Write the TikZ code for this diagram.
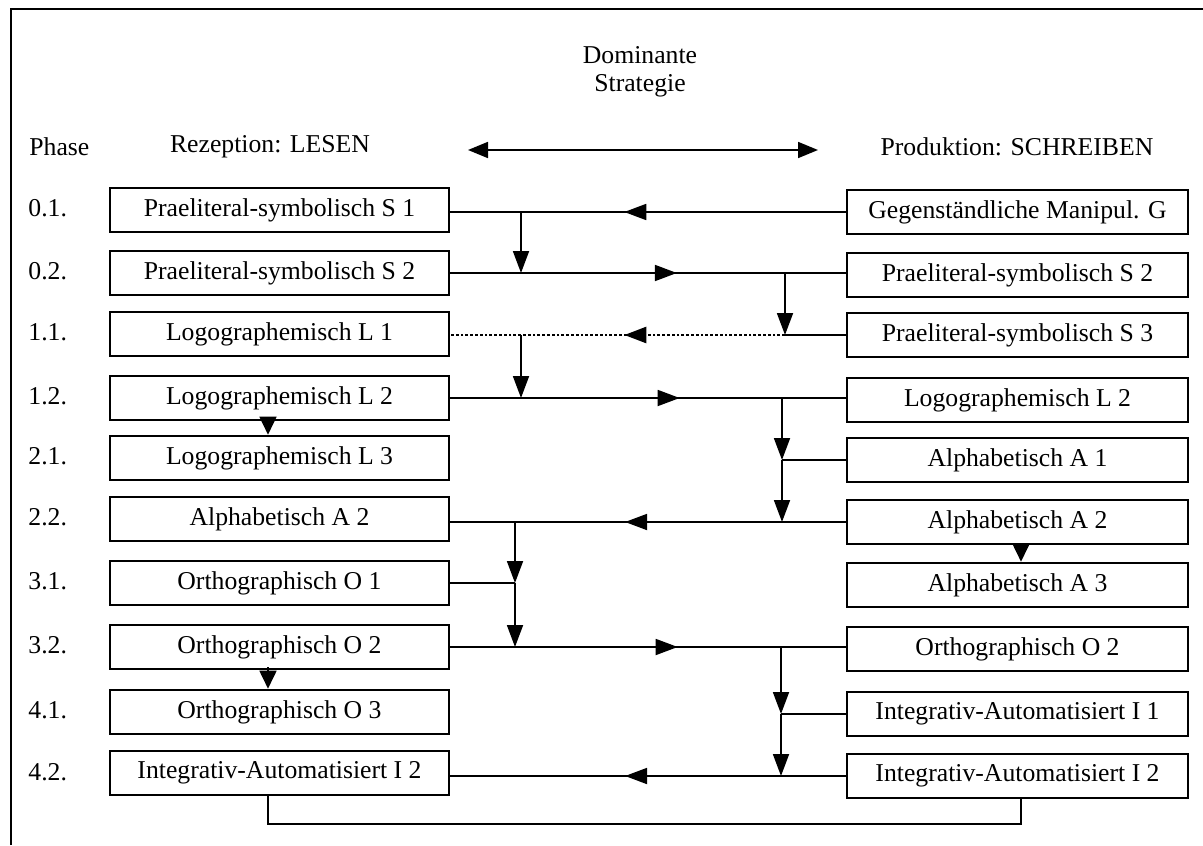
\documentclass[tikz,border=0pt]{standalone}
\usepackage{fontspec}
\setmainfont{Liberation Serif}
\usetikzlibrary{arrows.meta,decorations.markings}
\begin{document}
\begin{tikzpicture}[x=0.5pt,y=-0.5pt,
  every node/.style={font=\fontsize{12.85}{13.5}\selectfont, inner sep=0pt},
  lbox/.style={draw, line width=1.3pt, minimum width=169.5pt, minimum height=22pt},
  rbox/.style={draw, line width=1.3pt, minimum width=170.5pt, minimum height=22pt},
  conn/.style={line width=0.9pt},
  tip/.style={-{Triangle[length=11pt,width=8pt]}},
  smalltip/.style={-{Triangle[length=9pt,width=8.5pt]}, shorten <=-1.5pt},
  midarrow/.style={postaction={decorate}, decoration={markings,
     mark=at position #1 with {\arrow{Triangle[length=11pt,width=8pt]}}}},
  phase/.style={anchor=west}
]
\useasboundingbox (0,0) rectangle (1203,845);
% frame (top and left edges)
\draw[line width=0.8pt] (11,845) -- (11,9) -- (1203,9);

% headers
\node (dom) [align=center] at (640,72) {Dominante\\[0.25pt]Strategie};
\node (ph) [phase] at (29,147) {Phase};
\node (rez) at (270,147) {Rezeption: LESEN};
\node (prod) at (1017,147) {Produktion: SCHREIBEN};
\coordinate (da1) at (468,150);
\coordinate (da2) at (818,150);
\draw[conn, {Triangle[length=10pt,width=8pt]}-{Triangle[length=10pt,width=8pt]}] (da1) -- (da2);

% phase numbers
\node (p1) [phase] at (28,208) {0.1.};
\node (p2) [phase] at (28,271) {0.2.};
\node (p3) [phase] at (28,332) {1.1.};
\node (p4) [phase] at (28,396) {1.2.};
\node (p5) [phase] at (28,456) {2.1.};
\node (p6) [phase] at (28,517) {2.2.};
\node (p7) [phase] at (28,581) {3.1.};
\node (p8) [phase] at (28,645) {3.2.};
\node (p9) [phase] at (28,710) {4.1.};
\node (p10) [phase] at (28,772) {4.2.};

% left boxes
\node (lS1) [lbox] at (279.5,210) {Praeliteral-symbolisch S 1};
\node (lS2) [lbox] at (279.5,273) {Praeliteral-symbolisch S 2};
\node (lL1) [lbox] at (279.5,334) {Logographemisch L 1};
\node (lL2) [lbox] at (279.5,398) {Logographemisch L 2};
\node (lL3) [lbox] at (279.5,458) {Logographemisch L 3};
\node (lA2) [lbox] at (279.5,519) {Alphabetisch A 2};
\node (lO1) [lbox] at (279.5,583) {Orthographisch O 1};
\node (lO2) [lbox] at (279.5,647) {Orthographisch O 2};
\node (lO3) [lbox] at (279.5,712) {Orthographisch O 3};
\node (lI2) [lbox] at (279.5,773) {Integrativ-Automatisiert I 2};

% right boxes
\node (rG)  [rbox] at (1017.5,212) {Gegenständliche Manipul. G};
\node (rS2) [rbox] at (1017.5,275) {Praeliteral-symbolisch S 2};
\node (rS3) [rbox] at (1017.5,335) {Praeliteral-symbolisch S 3};
\node (rL2) [rbox] at (1017.5,400) {Logographemisch L 2};
\node (rA1) [rbox] at (1017.5,460) {Alphabetisch A 1};
\node (rA2) [rbox] at (1017.5,522) {Alphabetisch A 2};
\node (rA3) [rbox] at (1017.5,585) {Alphabetisch A 3};
\node (rO2) [rbox] at (1017.5,649) {Orthographisch O 2};
\node (rI1) [rbox] at (1017.5,714) {Integrativ-Automatisiert I 1};
\node (rI2) [rbox] at (1017.5,776) {Integrativ-Automatisiert I 2};

% columns
\coordinate (cL1) at (521,0);
\coordinate (cL2) at (515,0);
\coordinate (cR1) at (785,0);
\coordinate (cR2) at (782,0);
\coordinate (cR3) at (781,0);
\coordinate (colA) at (268,0);
\coordinate (colB) at (1021,0);
\coordinate (bot) at (0,824);

% row 0.1
\draw[conn, midarrow=0.56] (rG.west) -- (rG.west -| lS1.east);
\draw[conn, tip] (rG.west -| cL1) -- (lS2.east -| cL1);
% row 0.2
\draw[conn, midarrow=0.573] (lS2.east) -- (lS2.east -| rS2.west);
\draw[conn, tip] (lS2.east -| cR1) -- (rS3.west -| cR1);
% row 1.1
\draw[conn] (rS3.west) -- (rS3.west -| cR1);
\draw[line width=1.3pt, dash pattern=on 1.4pt off 1pt, midarrow=0.48] (rS3.west -| cR1) -- (rS3.west -| lL1.east);
\draw[conn, tip] (rS3.west -| cL1) -- (lL2.east -| cL1);
% row 1.2
\draw[conn, midarrow=0.58] (lL2.east) -- (lL2.east -| rL2.west);
\draw[conn, tip] (lL2.east -| cR2) -- (rA1.west -| cR2);
\draw[conn, tip] (rA1.west -| cR2) -- (rA2.west -| cR2);
\draw[conn] (rA1.west) -- (rA1.west -| cR2);
% L2 -> L3
\draw[conn, smalltip] (lL2.south -| colA) -- (lL3.north -| colA);
% row 2.2
\draw[conn, midarrow=0.558] (rA2.west) -- (rA2.west -| lA2.east);
\draw[conn, tip] (rA2.west -| cL2) -- (lO1.east -| cL2);
\draw[conn, tip] (lO1.east -| cL2) -- (lO2.east -| cL2);
\draw[conn] (lO1.east) -- (lO1.east -| cL2);
% A2 -> A3
\draw[conn, smalltip] (rA2.south -| colB) -- (rA3.north -| colB);
% row 3.2
\draw[conn, midarrow=0.575] (lO2.east) -- (lO2.east -| rO2.west);
\draw[conn, tip] (lO2.east -| cR3) -- (rI1.west -| cR3);
\draw[conn, tip] (rI1.west -| cR3) -- (rI2.west -| cR3);
\draw[conn] (rI1.west) -- (rI1.west -| cR3);
% O2 -> O3
\draw[conn, smalltip] (lO2.south -| colA) -- (lO3.north -| colA);
% row 4.2
\draw[conn, midarrow=0.558] (rI2.west) -- (rI2.west -| lI2.east);
% bottom loop
\draw[conn] (lI2.south -| colA) -- (colA |- bot) -- (colB |- bot) -- (rI2.south -| colB);
\end{tikzpicture}
\end{document}
